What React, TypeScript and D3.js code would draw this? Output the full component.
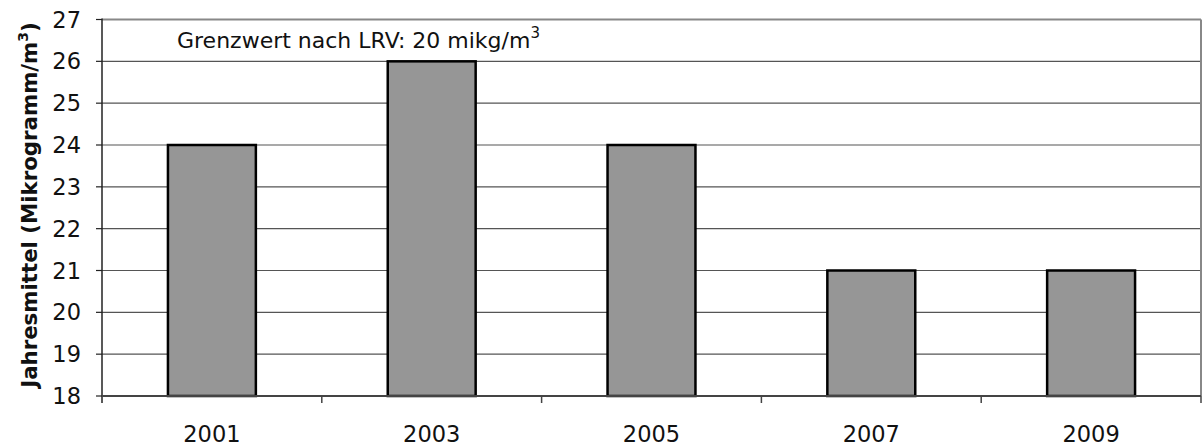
import React from "react";
import * as d3 from "d3";

const years = ["2001", "2003", "2005", "2007", "2009"];
const values = [24, 26, 24, 21, 21];
const yTicks = [18, 19, 20, 21, 22, 23, 24, 25, 26, 27];

const W = 1203;
const H = 446;
const margin = { left: 102, right: 2, top: 19.5, bottom: 50 };
const FONT = "'DejaVu Sans', 'Open Sans', sans-serif";

const App: React.FC = () => {
  const x = d3
    .scaleBand<string>()
    .domain(years)
    .range([margin.left, W - margin.right])
    .paddingInner(0.6)
    .paddingOuter(0.3);
  const band = d3
    .scaleBand<string>()
    .domain(years)
    .range([margin.left, W - margin.right]);
  const y = d3
    .scaleLinear()
    .domain([18, 27])
    .range([H - margin.bottom, margin.top]);

  const x0 = margin.left;
  const x1 = W - margin.right;
  const yb = y(18);
  const yt = y(27);

  return (
    <svg
      width={W}
      height={H}
      style={{ position: "absolute", left: 0, top: 0, background: "#fff" }}
      fontFamily={FONT}
    >
      {/* gridlines */}
      {yTicks.slice(1, -1).map((t) => (
        <line key={t} x1={x0} x2={x1} y1={y(t)} y2={y(t)} stroke="#555" strokeWidth={1.2} />
      ))}
      {/* plot border top/right */}
      <line x1={x0} x2={x1} y1={yt} y2={yt} stroke="#888" strokeWidth={2} />
      <line x1={x1} x2={x1} y1={yt} y2={yb} stroke="#888" strokeWidth={2} />

      {/* bars */}
      {values.map((v, i) => (
        <rect
          key={years[i]}
          x={x(years[i])}
          y={y(v)}
          width={x.bandwidth()}
          height={yb - y(v)}
          fill="#969696"
          stroke="#000"
          strokeWidth={2.5}
        />
      ))}

      {/* axes */}
      <line x1={x0} x2={x0} y1={yt - 1} y2={yb + 7} stroke="#222" strokeWidth={1.5} />
      <line x1={x0} x2={x1} y1={yb} y2={yb} stroke="#444" strokeWidth={2} />
      {yTicks.map((t) => (
        <g key={t}>
          <line x1={x0 - 6} x2={x0} y1={y(t)} y2={y(t)} stroke="#222" strokeWidth={1.2} />
          <text x={81} y={y(t)} dy="0.36em" textAnchor="end" fontSize={22.5} fill="#111">
            {t}
          </text>
        </g>
      ))}
      {years.map((yr) => (
        <g key={yr}>
          <line
            x1={(band(yr) as number) + band.bandwidth()}
            x2={(band(yr) as number) + band.bandwidth()}
            y1={yb}
            y2={yb + 7}
            stroke="#444"
            strokeWidth={1.5}
          />
          <text
            x={(band(yr) as number) + band.bandwidth() / 2}
            y={442}
            textAnchor="middle"
            fontSize={22.5}
            fill="#111"
          >
            {yr}
          </text>
        </g>
      ))}

      {/* annotation */}
      <text x={177} y={48} fontSize={22} fill="#111">
        Grenzwert nach LRV: 20 mikg/m
        <tspan dy={-10} fontSize={15}>3</tspan>
      </text>

      {/* y-axis title */}
      <text
        transform="translate(37, 205) rotate(-90)"
        textAnchor="middle"
        fontSize={21.3}
        fontWeight="bold"
        fill="#111"
      >
        Jahresmittel (Mikrogramm/m
        <tspan dy={-9} fontSize={14}>3</tspan>
        <tspan dy={9}>)</tspan>
      </text>
    </svg>
  );
};

export default App;
